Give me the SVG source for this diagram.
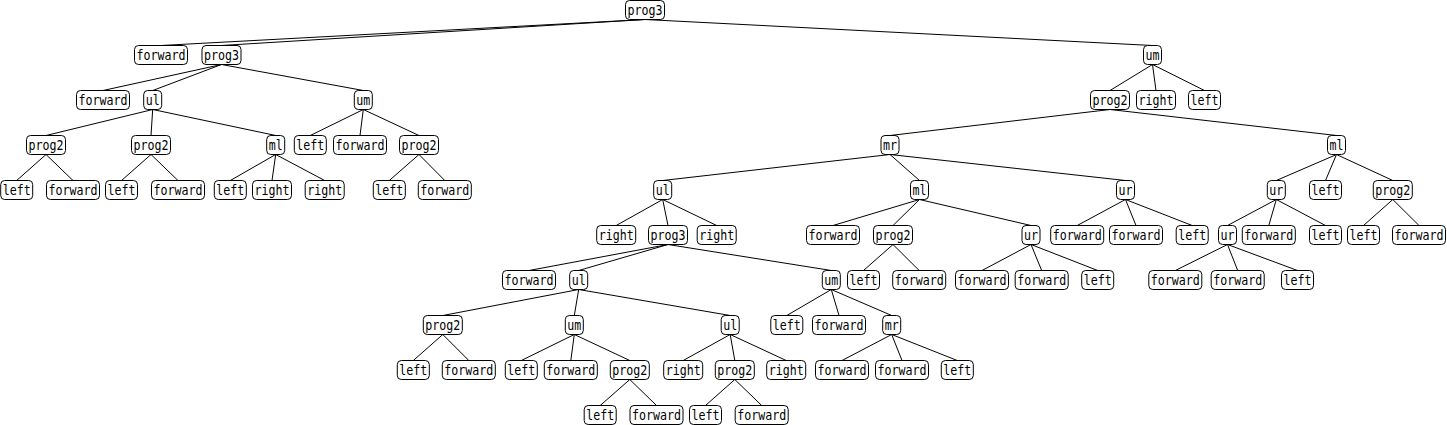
<svg xmlns="http://www.w3.org/2000/svg" width="1447" height="425" viewBox="0 0 1447 425">
<style>
.e{stroke:#000;stroke-width:1;fill:none}
.n rect{fill:#fff;stroke:#000;stroke-width:1}
.n text{font-family:"DejaVu Sans Mono","Liberation Mono",monospace;font-size:13.5px;text-anchor:middle;fill:#000}
</style>
<rect width="1447" height="425" fill="#fff"/>
<g id="edges" class="e">
<path d="M645 19.5L161 45.5M645 19.5L221.5 45.5M645 19.5L1152.5 45.5"/>
<path d="M221.5 64.5L103 90.5M221.5 64.5L152.7 90.5M221.5 64.5L363.3 90.5M1152.5 64.5L1110 90.5M1152.5 64.5L1156 90.5M1152.5 64.5L1204.5 90.5"/>
<path d="M152.7 109.5L46 135.5M152.7 109.5L151 135.5M152.7 109.5L275.7 135.5M363.3 109.5L310.3 135.5M363.3 109.5L360 135.5M363.3 109.5L419 135.5M1110 109.5L890 135.5M1110 109.5L1336.5 135.5"/>
<path d="M46 154.5L16.7 180.5M46 154.5L73 180.5M151 154.5L121.5 180.5M151 154.5L178 180.5M275.7 154.5L230.3 180.5M275.7 154.5L272 180.5M275.7 154.5L324.7 180.5M419 154.5L389.3 180.5M419 154.5L444.8 180.5M890 154.5L662.7 180.5M890 154.5L919.5 180.5M890 154.5L1125.5 180.5M1336.5 154.5L1276.3 180.5M1336.5 154.5L1325.5 180.5M1336.5 154.5L1392.8 180.5"/>
<path d="M662.7 199.5L616.2 225.5M662.7 199.5L668 225.5M662.7 199.5L716.7 225.5M919.5 199.5L833 225.5M919.5 199.5L893 225.5M919.5 199.5L1031 225.5M1125.5 199.5L1077.2 225.5M1125.5 199.5L1136 225.5M1125.5 199.5L1192.2 225.5M1276.3 199.5L1227.5 225.5M1276.3 199.5L1268.8 225.5M1276.3 199.5L1325.5 225.5M1392.8 199.5L1363.5 225.5M1392.8 199.5L1419 225.5"/>
<path d="M668 244.5L529 270.5M668 244.5L578.7 270.5M668 244.5L831.3 270.5M893 244.5L863.5 270.5M893 244.5L919.2 270.5M1031 244.5L982 270.5M1031 244.5L1041.7 270.5M1031 244.5L1097.7 270.5M1227.5 244.5L1175.3 270.5M1227.5 244.5L1237.7 270.5M1227.5 244.5L1297.5 270.5"/>
<path d="M578.7 289.5L442.8 315.5M578.7 289.5L574.3 315.5M578.7 289.5L730.2 315.5M831.3 289.5L786.8 315.5M831.3 289.5L839 315.5M831.3 289.5L891.7 315.5"/>
<path d="M442.8 334.5L413.3 360.5M442.8 334.5L468.8 360.5M574.3 334.5L521.3 360.5M574.3 334.5L570.8 360.5M574.3 334.5L629.8 360.5M730.2 334.5L683.2 360.5M730.2 334.5L734.8 360.5M730.2 334.5L786.2 360.5M891.7 334.5L842 360.5M891.7 334.5L902 360.5M891.7 334.5L957.3 360.5"/>
<path d="M629.8 379.5L600.2 405.5M629.8 379.5L656.5 405.5M734.8 379.5L705.5 405.5M734.8 379.5L761.7 405.5"/>
</g>
<g id="nodes">
<g id="n0" class="n"><rect x="625.5" y="0.5" width="39" height="19" rx="4"/><text x="645" y="14.5" textLength="35" lengthAdjust="spacingAndGlyphs">prog3</text></g>
<g id="n1" class="n"><rect x="134.5" y="45.5" width="53" height="19" rx="4"/><text x="161" y="59.5" textLength="49" lengthAdjust="spacingAndGlyphs">forward</text></g>
<g id="n2" class="n"><rect x="202" y="45.5" width="39" height="19" rx="4"/><text x="221.5" y="59.5" textLength="35" lengthAdjust="spacingAndGlyphs">prog3</text></g>
<g id="n3" class="n"><rect x="1143.5" y="45.5" width="18" height="19" rx="4"/><text x="1152.5" y="59.5" textLength="14" lengthAdjust="spacingAndGlyphs">um</text></g>
<g id="n4" class="n"><rect x="76.5" y="90.5" width="53" height="19" rx="4"/><text x="103" y="104.5" textLength="49" lengthAdjust="spacingAndGlyphs">forward</text></g>
<g id="n5" class="n"><rect x="143.7" y="90.5" width="18" height="19" rx="4"/><text x="152.7" y="104.5" textLength="14" lengthAdjust="spacingAndGlyphs">ul</text></g>
<g id="n6" class="n"><rect x="354.3" y="90.5" width="18" height="19" rx="4"/><text x="363.3" y="104.5" textLength="14" lengthAdjust="spacingAndGlyphs">um</text></g>
<g id="n7" class="n"><rect x="1090.5" y="90.5" width="39" height="19" rx="4"/><text x="1110" y="104.5" textLength="35" lengthAdjust="spacingAndGlyphs">prog2</text></g>
<g id="n8" class="n"><rect x="1136.5" y="90.5" width="39" height="19" rx="4"/><text x="1156" y="104.5" textLength="35" lengthAdjust="spacingAndGlyphs">right</text></g>
<g id="n9" class="n"><rect x="1188.5" y="90.5" width="32" height="19" rx="4"/><text x="1204.5" y="104.5" textLength="28" lengthAdjust="spacingAndGlyphs">left</text></g>
<g id="n10" class="n"><rect x="26.5" y="135.5" width="39" height="19" rx="4"/><text x="46" y="149.5" textLength="35" lengthAdjust="spacingAndGlyphs">prog2</text></g>
<g id="n11" class="n"><rect x="131.5" y="135.5" width="39" height="19" rx="4"/><text x="151" y="149.5" textLength="35" lengthAdjust="spacingAndGlyphs">prog2</text></g>
<g id="n12" class="n"><rect x="266.7" y="135.5" width="18" height="19" rx="4"/><text x="275.7" y="149.5" textLength="14" lengthAdjust="spacingAndGlyphs">ml</text></g>
<g id="n13" class="n"><rect x="294.3" y="135.5" width="32" height="19" rx="4"/><text x="310.3" y="149.5" textLength="28" lengthAdjust="spacingAndGlyphs">left</text></g>
<g id="n14" class="n"><rect x="333.5" y="135.5" width="53" height="19" rx="4"/><text x="360" y="149.5" textLength="49" lengthAdjust="spacingAndGlyphs">forward</text></g>
<g id="n15" class="n"><rect x="399.5" y="135.5" width="39" height="19" rx="4"/><text x="419" y="149.5" textLength="35" lengthAdjust="spacingAndGlyphs">prog2</text></g>
<g id="n16" class="n"><rect x="881" y="135.5" width="18" height="19" rx="4"/><text x="890" y="149.5" textLength="14" lengthAdjust="spacingAndGlyphs">mr</text></g>
<g id="n17" class="n"><rect x="1327.5" y="135.5" width="18" height="19" rx="4"/><text x="1336.5" y="149.5" textLength="14" lengthAdjust="spacingAndGlyphs">ml</text></g>
<g id="n18" class="n"><rect x="0.7" y="180.5" width="32" height="19" rx="4"/><text x="16.7" y="194.5" textLength="28" lengthAdjust="spacingAndGlyphs">left</text></g>
<g id="n19" class="n"><rect x="46.5" y="180.5" width="53" height="19" rx="4"/><text x="73" y="194.5" textLength="49" lengthAdjust="spacingAndGlyphs">forward</text></g>
<g id="n20" class="n"><rect x="105.5" y="180.5" width="32" height="19" rx="4"/><text x="121.5" y="194.5" textLength="28" lengthAdjust="spacingAndGlyphs">left</text></g>
<g id="n21" class="n"><rect x="151.5" y="180.5" width="53" height="19" rx="4"/><text x="178" y="194.5" textLength="49" lengthAdjust="spacingAndGlyphs">forward</text></g>
<g id="n22" class="n"><rect x="214.3" y="180.5" width="32" height="19" rx="4"/><text x="230.3" y="194.5" textLength="28" lengthAdjust="spacingAndGlyphs">left</text></g>
<g id="n23" class="n"><rect x="252.5" y="180.5" width="39" height="19" rx="4"/><text x="272" y="194.5" textLength="35" lengthAdjust="spacingAndGlyphs">right</text></g>
<g id="n24" class="n"><rect x="305.2" y="180.5" width="39" height="19" rx="4"/><text x="324.7" y="194.5" textLength="35" lengthAdjust="spacingAndGlyphs">right</text></g>
<g id="n25" class="n"><rect x="373.3" y="180.5" width="32" height="19" rx="4"/><text x="389.3" y="194.5" textLength="28" lengthAdjust="spacingAndGlyphs">left</text></g>
<g id="n26" class="n"><rect x="418.3" y="180.5" width="53" height="19" rx="4"/><text x="444.8" y="194.5" textLength="49" lengthAdjust="spacingAndGlyphs">forward</text></g>
<g id="n27" class="n"><rect x="653.7" y="180.5" width="18" height="19" rx="4"/><text x="662.7" y="194.5" textLength="14" lengthAdjust="spacingAndGlyphs">ul</text></g>
<g id="n28" class="n"><rect x="910.5" y="180.5" width="18" height="19" rx="4"/><text x="919.5" y="194.5" textLength="14" lengthAdjust="spacingAndGlyphs">ml</text></g>
<g id="n29" class="n"><rect x="1116.5" y="180.5" width="18" height="19" rx="4"/><text x="1125.5" y="194.5" textLength="14" lengthAdjust="spacingAndGlyphs">ur</text></g>
<g id="n30" class="n"><rect x="1267.3" y="180.5" width="18" height="19" rx="4"/><text x="1276.3" y="194.5" textLength="14" lengthAdjust="spacingAndGlyphs">ur</text></g>
<g id="n31" class="n"><rect x="1309.5" y="180.5" width="32" height="19" rx="4"/><text x="1325.5" y="194.5" textLength="28" lengthAdjust="spacingAndGlyphs">left</text></g>
<g id="n32" class="n"><rect x="1373.3" y="180.5" width="39" height="19" rx="4"/><text x="1392.8" y="194.5" textLength="35" lengthAdjust="spacingAndGlyphs">prog2</text></g>
<g id="n33" class="n"><rect x="596.7" y="225.5" width="39" height="19" rx="4"/><text x="616.2" y="239.5" textLength="35" lengthAdjust="spacingAndGlyphs">right</text></g>
<g id="n34" class="n"><rect x="648.5" y="225.5" width="39" height="19" rx="4"/><text x="668" y="239.5" textLength="35" lengthAdjust="spacingAndGlyphs">prog3</text></g>
<g id="n35" class="n"><rect x="697.2" y="225.5" width="39" height="19" rx="4"/><text x="716.7" y="239.5" textLength="35" lengthAdjust="spacingAndGlyphs">right</text></g>
<g id="n36" class="n"><rect x="806.5" y="225.5" width="53" height="19" rx="4"/><text x="833" y="239.5" textLength="49" lengthAdjust="spacingAndGlyphs">forward</text></g>
<g id="n37" class="n"><rect x="873.5" y="225.5" width="39" height="19" rx="4"/><text x="893" y="239.5" textLength="35" lengthAdjust="spacingAndGlyphs">prog2</text></g>
<g id="n38" class="n"><rect x="1022" y="225.5" width="18" height="19" rx="4"/><text x="1031" y="239.5" textLength="14" lengthAdjust="spacingAndGlyphs">ur</text></g>
<g id="n39" class="n"><rect x="1050.7" y="225.5" width="53" height="19" rx="4"/><text x="1077.2" y="239.5" textLength="49" lengthAdjust="spacingAndGlyphs">forward</text></g>
<g id="n40" class="n"><rect x="1109.5" y="225.5" width="53" height="19" rx="4"/><text x="1136" y="239.5" textLength="49" lengthAdjust="spacingAndGlyphs">forward</text></g>
<g id="n41" class="n"><rect x="1176.2" y="225.5" width="32" height="19" rx="4"/><text x="1192.2" y="239.5" textLength="28" lengthAdjust="spacingAndGlyphs">left</text></g>
<g id="n42" class="n"><rect x="1218.5" y="225.5" width="18" height="19" rx="4"/><text x="1227.5" y="239.5" textLength="14" lengthAdjust="spacingAndGlyphs">ur</text></g>
<g id="n43" class="n"><rect x="1242.3" y="225.5" width="53" height="19" rx="4"/><text x="1268.8" y="239.5" textLength="49" lengthAdjust="spacingAndGlyphs">forward</text></g>
<g id="n44" class="n"><rect x="1309.5" y="225.5" width="32" height="19" rx="4"/><text x="1325.5" y="239.5" textLength="28" lengthAdjust="spacingAndGlyphs">left</text></g>
<g id="n45" class="n"><rect x="1347.5" y="225.5" width="32" height="19" rx="4"/><text x="1363.5" y="239.5" textLength="28" lengthAdjust="spacingAndGlyphs">left</text></g>
<g id="n46" class="n"><rect x="1392.5" y="225.5" width="53" height="19" rx="4"/><text x="1419" y="239.5" textLength="49" lengthAdjust="spacingAndGlyphs">forward</text></g>
<g id="n47" class="n"><rect x="502.5" y="270.5" width="53" height="19" rx="4"/><text x="529" y="284.5" textLength="49" lengthAdjust="spacingAndGlyphs">forward</text></g>
<g id="n48" class="n"><rect x="569.7" y="270.5" width="18" height="19" rx="4"/><text x="578.7" y="284.5" textLength="14" lengthAdjust="spacingAndGlyphs">ul</text></g>
<g id="n49" class="n"><rect x="822.3" y="270.5" width="18" height="19" rx="4"/><text x="831.3" y="284.5" textLength="14" lengthAdjust="spacingAndGlyphs">um</text></g>
<g id="n50" class="n"><rect x="847.5" y="270.5" width="32" height="19" rx="4"/><text x="863.5" y="284.5" textLength="28" lengthAdjust="spacingAndGlyphs">left</text></g>
<g id="n51" class="n"><rect x="892.7" y="270.5" width="53" height="19" rx="4"/><text x="919.2" y="284.5" textLength="49" lengthAdjust="spacingAndGlyphs">forward</text></g>
<g id="n52" class="n"><rect x="955.5" y="270.5" width="53" height="19" rx="4"/><text x="982" y="284.5" textLength="49" lengthAdjust="spacingAndGlyphs">forward</text></g>
<g id="n53" class="n"><rect x="1015.2" y="270.5" width="53" height="19" rx="4"/><text x="1041.7" y="284.5" textLength="49" lengthAdjust="spacingAndGlyphs">forward</text></g>
<g id="n54" class="n"><rect x="1081.7" y="270.5" width="32" height="19" rx="4"/><text x="1097.7" y="284.5" textLength="28" lengthAdjust="spacingAndGlyphs">left</text></g>
<g id="n55" class="n"><rect x="1148.8" y="270.5" width="53" height="19" rx="4"/><text x="1175.3" y="284.5" textLength="49" lengthAdjust="spacingAndGlyphs">forward</text></g>
<g id="n56" class="n"><rect x="1211.2" y="270.5" width="53" height="19" rx="4"/><text x="1237.7" y="284.5" textLength="49" lengthAdjust="spacingAndGlyphs">forward</text></g>
<g id="n57" class="n"><rect x="1281.5" y="270.5" width="32" height="19" rx="4"/><text x="1297.5" y="284.5" textLength="28" lengthAdjust="spacingAndGlyphs">left</text></g>
<g id="n58" class="n"><rect x="423.3" y="315.5" width="39" height="19" rx="4"/><text x="442.8" y="329.5" textLength="35" lengthAdjust="spacingAndGlyphs">prog2</text></g>
<g id="n59" class="n"><rect x="565.3" y="315.5" width="18" height="19" rx="4"/><text x="574.3" y="329.5" textLength="14" lengthAdjust="spacingAndGlyphs">um</text></g>
<g id="n60" class="n"><rect x="721.2" y="315.5" width="18" height="19" rx="4"/><text x="730.2" y="329.5" textLength="14" lengthAdjust="spacingAndGlyphs">ul</text></g>
<g id="n61" class="n"><rect x="770.8" y="315.5" width="32" height="19" rx="4"/><text x="786.8" y="329.5" textLength="28" lengthAdjust="spacingAndGlyphs">left</text></g>
<g id="n62" class="n"><rect x="812.5" y="315.5" width="53" height="19" rx="4"/><text x="839" y="329.5" textLength="49" lengthAdjust="spacingAndGlyphs">forward</text></g>
<g id="n63" class="n"><rect x="882.7" y="315.5" width="18" height="19" rx="4"/><text x="891.7" y="329.5" textLength="14" lengthAdjust="spacingAndGlyphs">mr</text></g>
<g id="n64" class="n"><rect x="397.3" y="360.5" width="32" height="19" rx="4"/><text x="413.3" y="374.5" textLength="28" lengthAdjust="spacingAndGlyphs">left</text></g>
<g id="n65" class="n"><rect x="442.3" y="360.5" width="53" height="19" rx="4"/><text x="468.8" y="374.5" textLength="49" lengthAdjust="spacingAndGlyphs">forward</text></g>
<g id="n66" class="n"><rect x="505.3" y="360.5" width="32" height="19" rx="4"/><text x="521.3" y="374.5" textLength="28" lengthAdjust="spacingAndGlyphs">left</text></g>
<g id="n67" class="n"><rect x="544.3" y="360.5" width="53" height="19" rx="4"/><text x="570.8" y="374.5" textLength="49" lengthAdjust="spacingAndGlyphs">forward</text></g>
<g id="n68" class="n"><rect x="610.3" y="360.5" width="39" height="19" rx="4"/><text x="629.8" y="374.5" textLength="35" lengthAdjust="spacingAndGlyphs">prog2</text></g>
<g id="n69" class="n"><rect x="663.7" y="360.5" width="39" height="19" rx="4"/><text x="683.2" y="374.5" textLength="35" lengthAdjust="spacingAndGlyphs">right</text></g>
<g id="n70" class="n"><rect x="715.3" y="360.5" width="39" height="19" rx="4"/><text x="734.8" y="374.5" textLength="35" lengthAdjust="spacingAndGlyphs">prog2</text></g>
<g id="n71" class="n"><rect x="766.7" y="360.5" width="39" height="19" rx="4"/><text x="786.2" y="374.5" textLength="35" lengthAdjust="spacingAndGlyphs">right</text></g>
<g id="n72" class="n"><rect x="815.5" y="360.5" width="53" height="19" rx="4"/><text x="842" y="374.5" textLength="49" lengthAdjust="spacingAndGlyphs">forward</text></g>
<g id="n73" class="n"><rect x="875.5" y="360.5" width="53" height="19" rx="4"/><text x="902" y="374.5" textLength="49" lengthAdjust="spacingAndGlyphs">forward</text></g>
<g id="n74" class="n"><rect x="941.3" y="360.5" width="32" height="19" rx="4"/><text x="957.3" y="374.5" textLength="28" lengthAdjust="spacingAndGlyphs">left</text></g>
<g id="n75" class="n"><rect x="584.2" y="405.5" width="32" height="19" rx="4"/><text x="600.2" y="419.5" textLength="28" lengthAdjust="spacingAndGlyphs">left</text></g>
<g id="n76" class="n"><rect x="630" y="405.5" width="53" height="19" rx="4"/><text x="656.5" y="419.5" textLength="49" lengthAdjust="spacingAndGlyphs">forward</text></g>
<g id="n77" class="n"><rect x="689.5" y="405.5" width="32" height="19" rx="4"/><text x="705.5" y="419.5" textLength="28" lengthAdjust="spacingAndGlyphs">left</text></g>
<g id="n78" class="n"><rect x="735.2" y="405.5" width="53" height="19" rx="4"/><text x="761.7" y="419.5" textLength="49" lengthAdjust="spacingAndGlyphs">forward</text></g>
</g>
</svg>
